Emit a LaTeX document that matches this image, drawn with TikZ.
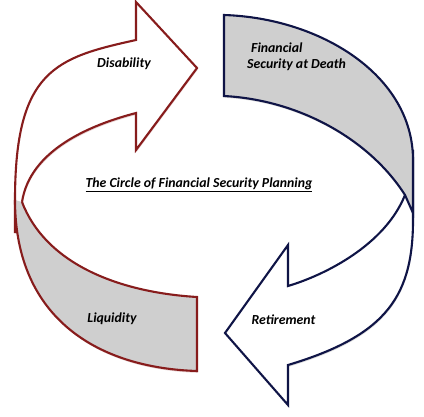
\documentclass[tikz,border=0pt]{standalone}
\usepackage{fontspec}
\setmainfont{Carlito}
\usetikzlibrary{shadows}
\definecolor{maroonc}{RGB}{135,28,28}
\definecolor{navyc}{RGB}{15,20,70}
\definecolor{bandgray}{RGB}{207,207,207}
\begin{document}
\begin{tikzpicture}[x=1pt,y=-1pt,
  edge/.style={line width=2.1pt, line join=miter},
  mshadow/.style={drop shadow={shadow xshift=0.6pt, shadow yshift=-1.8pt, opacity=0.45, fill=maroonc!45}},
  nshadow/.style={drop shadow={shadow xshift=0.6pt, shadow yshift=-1.8pt, opacity=0.35, fill=black!40}},
  mwhite/.style={edge, draw=maroonc, fill=white, mshadow},
  nwhite/.style={edge, draw=navyc, fill=white, nshadow},
  lbl/.style={font=\fontsize{13.8}{16}\selectfont\bfseries\itshape, inner sep=0pt, text=black}]
\fill[white] (0,0) rectangle (424,416);
\useasboundingbox (0,0) rectangle (424,416);

% maroon curved arrow (Disability)
\path[mwhite] (15,232) -- (15,200) .. controls (15,70) and (56,57.6) .. (136,40)
  -- (136,2) -- (197,68) -- (136,150) -- (136,113)
  .. controls (90,125) and (30,150) .. (22,202) -- (26,232) -- cycle;
% maroon back band (Liquidity)
\fill[bandgray, mshadow] (22,202) .. controls (45,262) and (115,292) .. (197,297)
  -- (197,371) .. controls (100,368) and (15,320) .. (15,200) -- cycle;
\draw[edge, maroonc] (22,202) .. controls (45,262) and (115,292) .. (197,297)
  -- (197,371) .. controls (100,368) and (15,320) .. (15,200);

% navy curved arrow (Retirement)
\path[nwhite] (408,175) -- (413,150) -- (413,215) .. controls (414,295) and (388,335) .. (288,365)
  -- (288,405) -- (225,333) -- (288,245) -- (288,286)
  .. controls (325,275) and (385,245) .. (405,195) -- cycle;
% navy back band (Financial Security at Death)
\path[edge, draw=navyc, fill=bandgray, nshadow] (224,15) .. controls (320,18) and (413,75) .. (413,160)
  -- (413,213) -- (405,195) .. controls (370,140) and (300,100) .. (224,96) -- cycle;

% labels
\node[lbl, anchor=base] (dis) at (124,67) {Disability};
\node[lbl, anchor=base west] (fin1) at (251,52) {Financial};
\node[lbl, anchor=base west] (fin2) at (247,68) {Security at Death};
\node[lbl, anchor=base] (title) at (199,187) {\underline{The Circle of Financial Security Planning}};
\node[lbl, anchor=base] (liq) at (112,322) {Liquidity};
\node[lbl, anchor=base] (ret) at (283.5,324) {Retirement};
\end{tikzpicture}
\end{document}
